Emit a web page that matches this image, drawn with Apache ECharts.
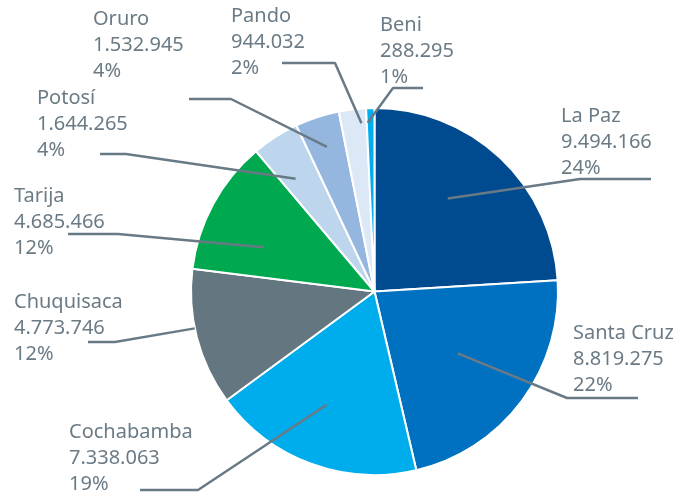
<!DOCTYPE html>
<html lang="es">
  <head>
    <meta charset="UTF-8" />
    <title>Bolivia por departamento</title>
    <script src="https://cdn.jsdelivr.net/npm/echarts@6/dist/echarts.min.js"></script>
    <style>
      html, body { margin: 0; padding: 0; background: #fff; }
      #main { width: 678px; height: 496px; }
    </style>
  </head>
  <body>
    <div id="main"></div>
    <script>
      // datos
      const departamentos = ["La Paz", "Santa Cruz", "Cochabamba", "Chuquisaca", "Tarija", "Potosí", "Oruro", "Pando", "Beni"];
      const valores = [9494166, 8819275, 7338063, 4773746, 4685466, 1644265, 1532945, 944032, 288295];
      const colores = ["#004a8f", "#0070c0", "#00adec", "#647680", "#00a94f", "#bdd6ee", "#95b6df", "#dce8f5", "#00aeef"];

      // posicion de etiquetas: [x, y arriba]
      const etiquetaPos = [
        [561, 103], [573, 320], [69, 419], [14, 289], [14, 183],
        [37, 85], [93, 6], [231, 3], [380, 12]
      ];
      // linea guia: [x codo, x final, y]
      const lineaPos = [
        [580, 651, 179], [567, 638, 398], [198, 140, 490], [115, 88, 342], [118, 68, 234],
        [126, 100, 154], [231, 189, 99], [335, 282, 63], [393, 423, 88]
      ];
      // inicio de la linea dentro del sector: fraccion del radio y desvio (grados)
      const profundidad = [0.645, 0.565, 0.67, 1.0, 0.65, 0.75, 0.83, 0.92, 0.92];
      const desvio = [-5, 0, 2.7, 3, -6.7, -2.3, 0, 2.5, -1];

      const W = 678, H = 496;
      const cx = 374.5, cy = 291.5, radio = 183.5;

      const fmt = (n) => String(n).replace(/\B(?=(\d{3})+(?!\d))/g, ".");

      // angulo medio de cada sector (desde arriba, sentido horario)
      const total = valores.reduce((a, b) => a + b, 0);
      let acum = 0;
      const anguloMedio = valores.map((v) => {
        const a = ((acum + v / 2) / total) * 360;
        acum += v;
        return a;
      });

      // lineas guia, en pixeles del lienzo
      const guias = departamentos.map((n, i) => {
        const ang = ((anguloMedio[i] + desvio[i]) * Math.PI) / 180;
        const r = radio * profundidad[i];
        const l = lineaPos[i];
        return {
          type: "line",
          z: 5,
          silent: true,
          symbol: "none",
          animation: false,
          lineStyle: { color: "#687a85", width: 2.5 },
          data: [
            [cx + r * Math.sin(ang), cy - r * Math.cos(ang)],
            [l[0], l[2]],
            [l[1], l[2]],
          ],
        };
      });

      const chart = echarts.init(document.getElementById("main"));
      chart.setOption({
        animation: false,
        grid: { left: 0, right: 0, top: 0, bottom: 0 },
        xAxis: { type: "value", min: 0, max: W, show: false },
        yAxis: { type: "value", min: 0, max: H, inverse: true, show: false },
        series: [
          {
            type: "pie",
            z: 2,
            center: [cx, cy],
            radius: radio,
            startAngle: 90,
            clockwise: true,
            avoidLabelOverlap: false,
            data: departamentos.map((n, i) => ({
              name: n,
              value: valores[i],
              itemStyle: { color: colores[i] },
            })),
            itemStyle: { borderColor: "#fff", borderWidth: 2 },
            emphasis: { disabled: true },
            label: {
              show: true,
              position: "outside",
              formatter: (p) => `${p.name}\n${fmt(p.value)}\n${Math.round(p.percent)}%`,
              color: "#6b7b86",
              fontFamily: "Noto Sans",
              fontSize: 20,
              lineHeight: 26,
            },
            labelLine: { show: false },
            labelLayout: (p) => ({
              x: etiquetaPos[p.dataIndex][0],
              y: etiquetaPos[p.dataIndex][1],
              align: "left",
              verticalAlign: "top",
            }),
          },
          ...guias,
        ],
      });
    </script>
  </body>
</html>
